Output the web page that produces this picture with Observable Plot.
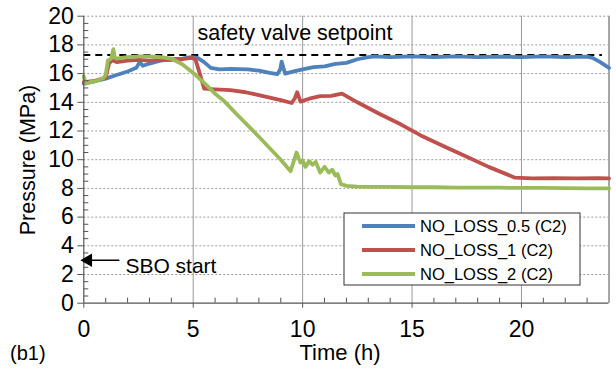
<!DOCTYPE html>
<html>
<head>
<meta charset="utf-8">
<script src="https://cdn.jsdelivr.net/npm/d3@7"></script>
<script src="https://cdn.jsdelivr.net/npm/@observablehq/plot@0.6"></script>
<style>
  html, body { margin: 0; padding: 0; background: #fff; }
  #chart { position: relative; width: 616px; height: 370px; }
</style>
</head>
<body>
<div id="chart"></div>
<script>
// ---- data ----
const seriesNames = ["NO_LOSS_0.5 (C2)", "NO_LOSS_1 (C2)", "NO_LOSS_2 (C2)"];
const seriesColors = ["#4F81BD", "#C0504D", "#9BBB59"];

const blueT = [0, 0.3, 0.6, 1.0, 1.5, 2.0, 2.4, 2.55, 2.7, 3.0, 3.5, 4.0, 4.5, 4.9, 5.2, 5.5, 5.8, 6.2, 6.7, 7.5, 8.0, 8.5, 8.85, 8.98, 9.04, 9.12, 9.2, 9.6, 10.0, 10.5, 11.0, 11.5, 12.0, 12.5, 13.0, 13.3, 14, 15, 16, 17, 18, 19, 20, 21, 22, 23, 23.25, 23.6, 24];
const blueP = [15.3, 15.4, 15.5, 15.65, 15.9, 16.15, 16.4, 16.8, 16.55, 16.7, 16.9, 17.0, 17.05, 17.15, 17.1, 16.8, 16.4, 16.3, 16.33, 16.3, 16.2, 16.05, 15.97, 16.3, 16.84, 16.4, 16.0, 16.15, 16.3, 16.45, 16.5, 16.68, 16.75, 17.0, 17.14, 17.2, 17.15, 17.2, 17.15, 17.2, 17.15, 17.18, 17.15, 17.2, 17.15, 17.18, 17.1, 16.8, 16.4];

const redT = [0, 0.5, 1.0, 1.15, 1.3, 1.5, 2, 2.5, 3, 3.5, 4, 4.5, 4.9, 5.1, 5.3, 5.5, 6, 6.7, 7.4, 8, 9, 9.5, 9.65, 9.75, 9.9, 10.3, 10.8, 11.3, 11.8, 12.5, 13.5, 14.5, 15.4, 16.5, 17.5, 18.5, 19.7, 20.5, 21.5, 22.5, 23.5, 24];
const redP = [15.4, 15.5, 15.7, 16.7, 16.95, 16.8, 16.9, 16.95, 16.9, 16.95, 16.95, 17.0, 17.1, 17.0, 16.0, 14.95, 14.9, 14.85, 14.7, 14.5, 14.15, 13.95, 14.3, 14.7, 14.05, 14.25, 14.43, 14.45, 14.6, 14.0, 13.2, 12.45, 11.69, 10.9, 10.2, 9.5, 8.75, 8.7, 8.72, 8.7, 8.72, 8.7];

const greenT = [0, 0.08, 0.3, 0.6, 0.9, 1.0, 1.1, 1.25, 1.35, 1.42, 1.5, 1.7, 2.0, 2.5, 3.0, 3.5, 4.0, 4.5, 5.0, 5.5, 6.0, 6.4, 7.0, 8.0, 9.0, 9.45, 9.72, 9.9, 10.0, 10.13, 10.3, 10.45, 10.6, 10.8, 11.0, 11.2, 11.35, 11.5, 11.6, 11.75, 12.0, 12.5, 13, 14, 15, 16, 17, 18, 19, 20, 21, 22, 23, 24];
const greenP = [15.8, 15.3, 15.4, 15.5, 15.7, 15.9, 16.9, 17.05, 17.7, 17.1, 17.05, 17.1, 17.15, 17.2, 17.2, 17.15, 17.05, 16.65, 16.05, 15.35, 14.6, 14.1, 13.15, 11.6, 10.0, 9.2, 10.5, 9.8, 9.95, 9.5, 9.9, 9.65, 9.85, 9.1, 9.5, 9.1, 9.3, 8.9, 9.0, 8.3, 8.18, 8.12, 8.1, 8.1, 8.08, 8.08, 8.06, 8.05, 8.05, 8.03, 8.03, 8.02, 8.0, 8.0];

const xMajorTicks = [0, 5, 10, 15, 20];
const xMinorTicks = [1, 2, 3, 4, 6, 7, 8, 9, 11, 12, 13, 14, 16, 17, 18, 19, 21, 22, 23];
const yMajorTicks = [0, 2, 4, 6, 8, 10, 12, 14, 16, 18, 20];
const yMinorTicks = d3.range(0.5, 20, 0.5).filter(v => v % 2 !== 0);

const setpoint = 17.3;
const setpointEnd = 23.7;
const setpointLabel = [{t: 5.2, p: 18.8, text: "safety valve setpoint"}];
const sboArrow = [{t1: 1.6, t2: 0.25, p: 3.0}];
const sboHead = [{t: 0.2, p: 3.0}];
const sboLabel = [{t: 1.9, p: 2.6, text: "SBO start"}];

// ---- table built from the arrays ----
const rows = [];
[[blueT, blueP], [redT, redP], [greenT, greenP]].forEach(([ts, ps], i) => {
  ts.forEach((t, j) => rows.push({series: seriesNames[i], t, p: ps[j]}));
});

const axisColor = "#555";
const font = "'Liberation Sans', Arial, sans-serif";
const chart = Plot.plot({
  width: 616,
  height: 370,
  marginLeft: 83.3,
  marginRight: 7.5,
  marginTop: 15.7,
  marginBottom: 67.3,
  style: {fontFamily: font, fontSize: "23px", color: "#000", background: "#fff", overflow: "visible"},
  x: {domain: [0, 24]},
  y: {domain: [0, 20]},
  color: {domain: seriesNames, range: seriesColors},
  marks: [
    Plot.gridY(yMajorTicks.filter(v => v > 0), {stroke: "#9a9a9a", strokeOpacity: 1, strokeDasharray: "2,2"}),
    Plot.gridX([5, 10, 15, 20], {stroke: "#9a9a9a", strokeOpacity: 1}),
    Plot.ruleX([24], {stroke: "#888", strokeWidth: 1.5}),
    Plot.ruleY([setpoint], {x1: 0, x2: setpointEnd, stroke: "#000", strokeWidth: 2, strokeDasharray: "7,5"}),
    Plot.line(rows, {x: "t", y: "p", z: "series", stroke: "series", strokeWidth: 3.8, curve: "linear"}),
    Plot.ruleX([0], {stroke: axisColor, strokeWidth: 1.2}),
    Plot.ruleY([0], {stroke: axisColor, strokeWidth: 1.2}),
    Plot.axisY(yMajorTicks, {tickSize: 6, tickPadding: 4, label: null, stroke: axisColor, fontSize: 23}),
    Plot.axisY(yMinorTicks, {tickSize: 5, dx: 5, label: null, tickFormat: () => "", stroke: axisColor}),
    Plot.axisX(xMajorTicks, {tickSize: 5, tickPadding: 12, label: null, stroke: axisColor, fontSize: 23}),
    Plot.axisX(xMinorTicks, {tickSize: 5, dy: -5, label: null, tickFormat: () => "", stroke: axisColor}),
    Plot.text(setpointLabel, {x: "t", y: "p", text: "text", textAnchor: "start", fontSize: 21.5, fill: "#000"}),
    Plot.arrow(sboArrow, {x1: "t1", x2: "t2", y1: "p", y2: "p", stroke: "#000", strokeWidth: 1.5, headLength: 0}),
    Plot.dot(sboHead, {x: "t", y: "p", symbol: "triangle", rotate: -90, r: 5, fill: "#000"}),
    Plot.text(sboLabel, {x: "t", y: "p", text: "text", textAnchor: "start", fontSize: 21, fill: "#000"})
  ]
});
document.getElementById("chart").appendChild(chart);

// ---- axis titles, panel tag, legend ----
const svg = d3.select(chart);
svg.append("text").attr("transform", "translate(28,160) rotate(-90)")
  .attr("text-anchor", "middle").attr("dominant-baseline", "central")
  .attr("font-family", font).attr("font-size", 21.5).attr("fill", "#000").text("Pressure (MPa)");
svg.append("text").attr("x", 340).attr("y", 352)
  .attr("text-anchor", "middle").attr("dominant-baseline", "central")
  .attr("font-family", font).attr("font-size", 22).attr("fill", "#000").text("Time (h)");
svg.append("text").attr("x", 10).attr("y", 353)
  .attr("text-anchor", "start").attr("dominant-baseline", "central")
  .attr("font-family", font).attr("font-size", 20).attr("fill", "#000").text("(b1)");

const lg = svg.append("g");
lg.append("rect").attr("x", 344).attr("y", 213).attr("width", 236).attr("height", 72)
  .attr("fill", "#fff").attr("stroke", "#333").attr("stroke-width", 1);
seriesNames.forEach((name, i) => {
  const y = 226 + i * 24;
  lg.append("line").attr("x1", 362).attr("x2", 415).attr("y1", y).attr("y2", y)
    .attr("stroke", seriesColors[i]).attr("stroke-width", 4);
  lg.append("text").attr("x", 420).attr("y", y).attr("text-anchor", "start").attr("dominant-baseline", "central")
    .attr("font-family", font).attr("font-size", 16.5).attr("fill", "#000").text(name);
});
</script>
</body>
</html>
